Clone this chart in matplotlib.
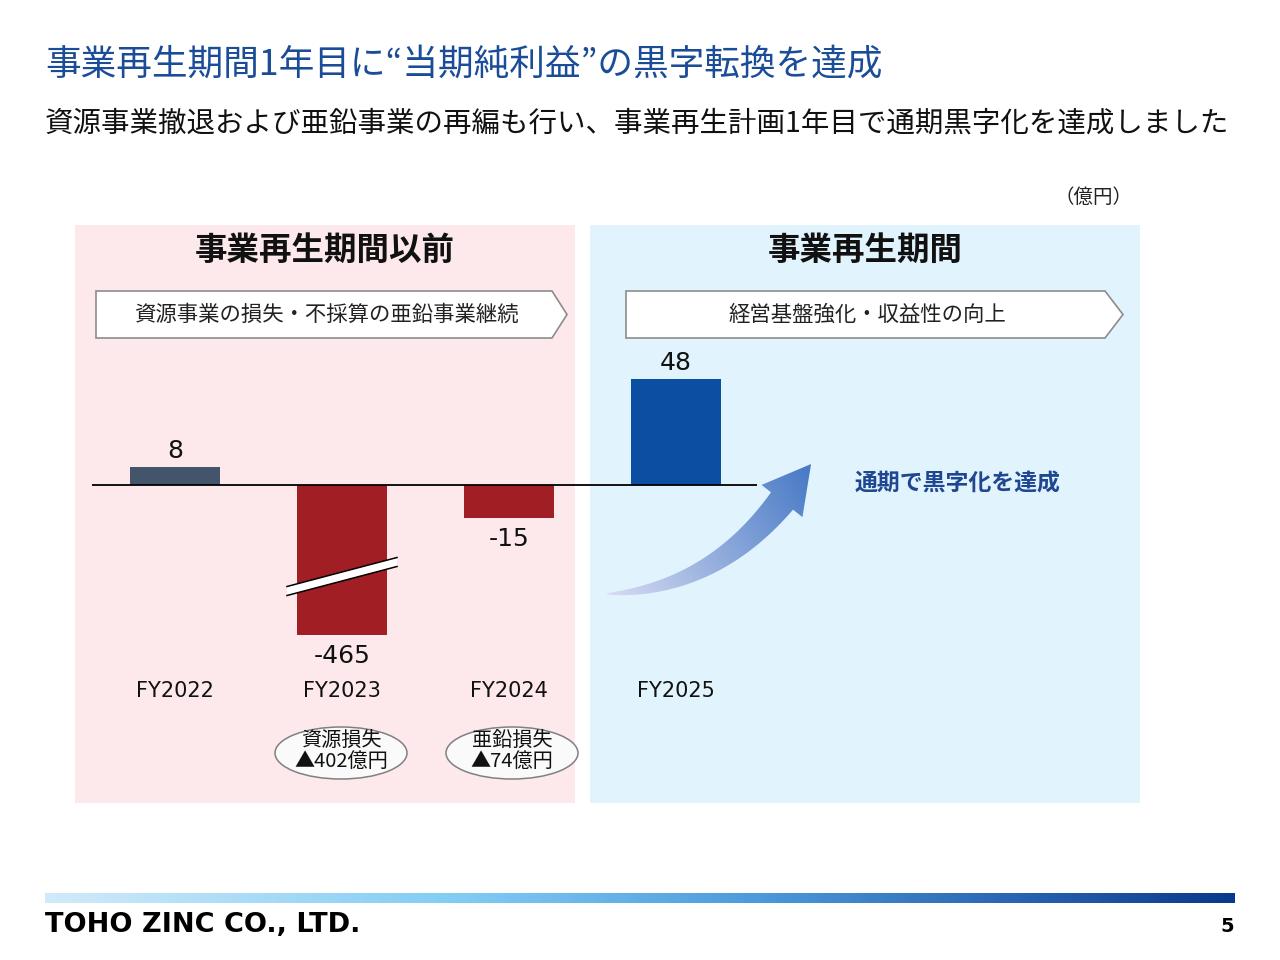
import numpy as np
import matplotlib
matplotlib.use("Agg")
import matplotlib.pyplot as plt
from matplotlib.patches import Polygon, Ellipse, Rectangle

plt.rcParams['font.family'] = ['Noto Sans CJK JP', 'DejaVu Sans']

# ---------------- data ----------------
years = ["FY2022", "FY2023", "FY2024", "FY2025"]
profit = [8, -465, -15, 48]
bar_colors = ["#44546A", "#A11F24", "#A11F24", "#0B4EA2"]
title = "事業再生期間1年目に“当期純利益”の黒字転換を達成"
subtitle = "資源事業撤退および亜鉛事業の再編も行い、事業再生計画1年目で通期黒字化を達成しました"
unit = "（億円）"
period_titles = ["事業再生期間以前", "事業再生期間"]
period_notes = ["資源事業の損失・不採算の亜鉛事業継続", "経営基盤強化・収益性の向上"]
loss_notes = [("FY2023", "資源損失\n▲402億円"), ("FY2024", "亜鉛損失\n▲74億円")]
callout = "通期で黒字化を達成"
company = "TOHO ZINC CO., LTD."
page = "5"

W, H = 1280, 960
fig = plt.figure(figsize=(W / 100, H / 100), dpi=100)
fig.patch.set_facecolor("white")

def px_axes(z):
    a = fig.add_axes([0, 0, 1, 1], zorder=z)
    a.set_xlim(0, W)
    a.set_ylim(H, 0)
    a.axis("off")
    a.patch.set_alpha(0)
    return a

bg = px_axes(0)

# panels
bg.add_patch(Rectangle((75, 225), 500, 578, facecolor="#FDE9EC", edgecolor="none"))
bg.add_patch(Rectangle((590, 225), 550, 578, facecolor="#E1F3FC", edgecolor="none"))

# titles
bg.text(45, 64, title, fontsize=25.7, color="#1B4C98", va="center", ha="left")
bg.text(45, 124, subtitle, fontsize=20.5, color="#111111", va="center", ha="left")
bg.text(1132, 197, unit, fontsize=14, color="#222222", va="center", ha="right")

# panel headings
bg.text(325, 250, period_titles[0], fontsize=23.4, fontweight="bold", color="#111111", ha="center", va="center")
bg.text(865, 250, period_titles[1], fontsize=23.4, fontweight="bold", color="#111111", ha="center", va="center")

# chevron boxes
def chevron(x0, x1, tip, y0, y1):
    ym = (y0 + y1) / 2
    pts = [(x0, y0), (x1, y0), (tip, ym), (x1, y1), (x0, y1)]
    bg.add_patch(Polygon(pts, closed=True, facecolor="white", edgecolor="#8C8C8C", lw=1.2))

chevron(96, 552, 567, 291, 338)
chevron(626, 1105, 1123, 291, 338)
bg.text(326, 315, period_notes[0], fontsize=15.4, color="#222222", ha="center", va="center")
bg.text(867, 315, period_notes[1], fontsize=15.4, color="#222222", ha="center", va="center")

# ---------------- bar chart ----------------
K = 0.08777
BRK = -30.0

def fwd(y):
    y = np.asarray(y, dtype=float)
    return np.where(y >= BRK, y, BRK + (y - BRK) * K)

def inv(t):
    t = np.asarray(t, dtype=float)
    return np.where(t >= BRK, t, BRK + (t - BRK) / K)

ax_top_px, ax_bot_px, zero_px, ppu = 340, 678, 485, 2.2
ax = fig.add_axes([92 / W, 1 - ax_bot_px / H, (759 - 92) / W, (ax_bot_px - ax_top_px) / H], zorder=1)
ax.patch.set_alpha(0)
ax.set_yscale("function", functions=(fwd, inv))
ax.set_xlim(-0.5, 3.5)
ax.set_ylim(float(inv(-(ax_bot_px - zero_px) / ppu)), (zero_px - ax_top_px) / ppu)
xpos = np.arange(len(years))
ax.bar(xpos, profit, width=0.54, color=bar_colors, zorder=2)
ax.plot([-0.5, 3.49], [0, 0], color="black", lw=1.3, zorder=3, solid_capstyle="butt")
for x, v in zip(xpos, profit):
    off = 12 if v > 0 else -15
    ax.annotate(f"{v}", (x, v), xytext=(0, off), textcoords="offset points",
                ha="center", va="center", fontsize=18, color="#111111", family="DejaVu Sans")
ax.set_xticks(xpos)
ax.set_xticklabels(years, fontsize=15, color="#111111", family="DejaVu Sans")
ax.tick_params(axis="x", length=0, pad=2)
ax.set_yticks([])
for s in ax.spines.values():
    s.set_visible(False)

# ---------------- foreground decorations ----------------
fg = px_axes(2)

# axis-break mark on FY2023 bar
bx0, bx1 = 287, 397
yb0, yb1 = 591, 562
hw = 4.5
band = [(bx0, yb0 - hw), (bx1, yb1 - hw), (bx1, yb1 + hw), (bx0, yb0 + hw)]
fg.add_patch(Polygon(band, closed=True, facecolor="white", edgecolor="none"))
fg.plot([bx0, bx1], [yb0 - hw, yb1 - hw], color="black", lw=1.1)
fg.plot([bx0, bx1], [yb0 + hw, yb1 + hw], color="black", lw=1.1)

# loss ellipses
ell_x = {"FY2023": 341, "FY2024": 512}
for key, txt in loss_notes:
    cx = ell_x[key]
    fg.add_patch(Ellipse((cx, 753), 132, 52, facecolor="#FAFAFA", edgecolor="#808080", lw=1.1))
    fg.text(cx, 751, txt, fontsize=14.5, ha="center", va="center", color="#111111", linespacing=1.0,
            family=["Noto Sans CJK JP", "DejaVu Sans"])

# gradient curved arrow
P0, P1, P2 = np.array([606., 594.]), np.array([712., 590.]), np.array([782., 501.])
t = np.linspace(0, 1, 60)
C = ((1 - t) ** 2)[:, None] * P0 + (2 * (1 - t) * t)[:, None] * P1 + (t ** 2)[:, None] * P2
D = (2 * (1 - t))[:, None] * (P1 - P0) + (2 * t)[:, None] * (P2 - P1)
D = D / np.linalg.norm(D, axis=1)[:, None]
N = np.stack([-D[:, 1], D[:, 0]], axis=1)
w = 14 * t ** 0.7
upper = C - N * w[:, None]
lower = C + N * w[:, None]
tan_end = D[-1]
nrm_end = N[-1]
tip = P2 + 47 * tan_end
h1 = P2 - nrm_end * 26
h2 = P2 + nrm_end * 26
outline = np.vstack([upper, [h1], [tip], [h2], lower[::-1]])
arrow_patch = Polygon(outline, closed=True, facecolor="none", edgecolor="none")
fg.add_patch(arrow_patch)
gx = np.linspace(600, 825, 200)
gy = np.linspace(455, 600, 120)
GX, GY = np.meshgrid(gx, gy)
dvec = np.array([815 - 607, 467 - 593.0])
proj = ((GX - 607) * dvec[0] + (GY - 593) * dvec[1]) / (dvec @ dvec)
proj = np.clip(proj, 0, 1)
c0 = np.array([0.84, 0.86, 0.95])
c1 = np.array([0.27, 0.47, 0.77])
img = c0[None, None, :] * (1 - proj[..., None]) + c1[None, None, :] * proj[..., None]
im = fg.imshow(img, extent=(600, 825, 600, 455), origin="upper", interpolation="bilinear", zorder=3)
im.set_clip_path(arrow_patch)

fg.text(855, 484, callout, fontsize=16.5, fontweight="bold", color="#1F4690", ha="left", va="center")

# footer gradient bar
grad = np.linspace(0, 1, 400)
stops_x = [0, 0.35, 0.6, 1]
stops_c = np.array([[0.82, 0.92, 0.98], [0.50, 0.80, 0.96], [0.30, 0.60, 0.86], [0.04, 0.22, 0.55]])
bar_img = np.stack([np.interp(grad, stops_x, stops_c[:, i]) for i in range(3)], axis=-1)[None, :, :]
fg.imshow(bar_img, extent=(45, 1235, 903, 893), aspect="auto", interpolation="bilinear", zorder=3)
fg.set_xlim(0, W)
fg.set_ylim(H, 0)

fg.text(45, 925, company, fontsize=19.5, fontweight="bold", family="DejaVu Sans",
        color="black", ha="left", va="center")
fg.text(1234, 927, page, fontsize=14, fontweight="bold", family="DejaVu Sans", color="black",
        ha="right", va="center")

fig.savefig("out.png", dpi=100, facecolor="white")
